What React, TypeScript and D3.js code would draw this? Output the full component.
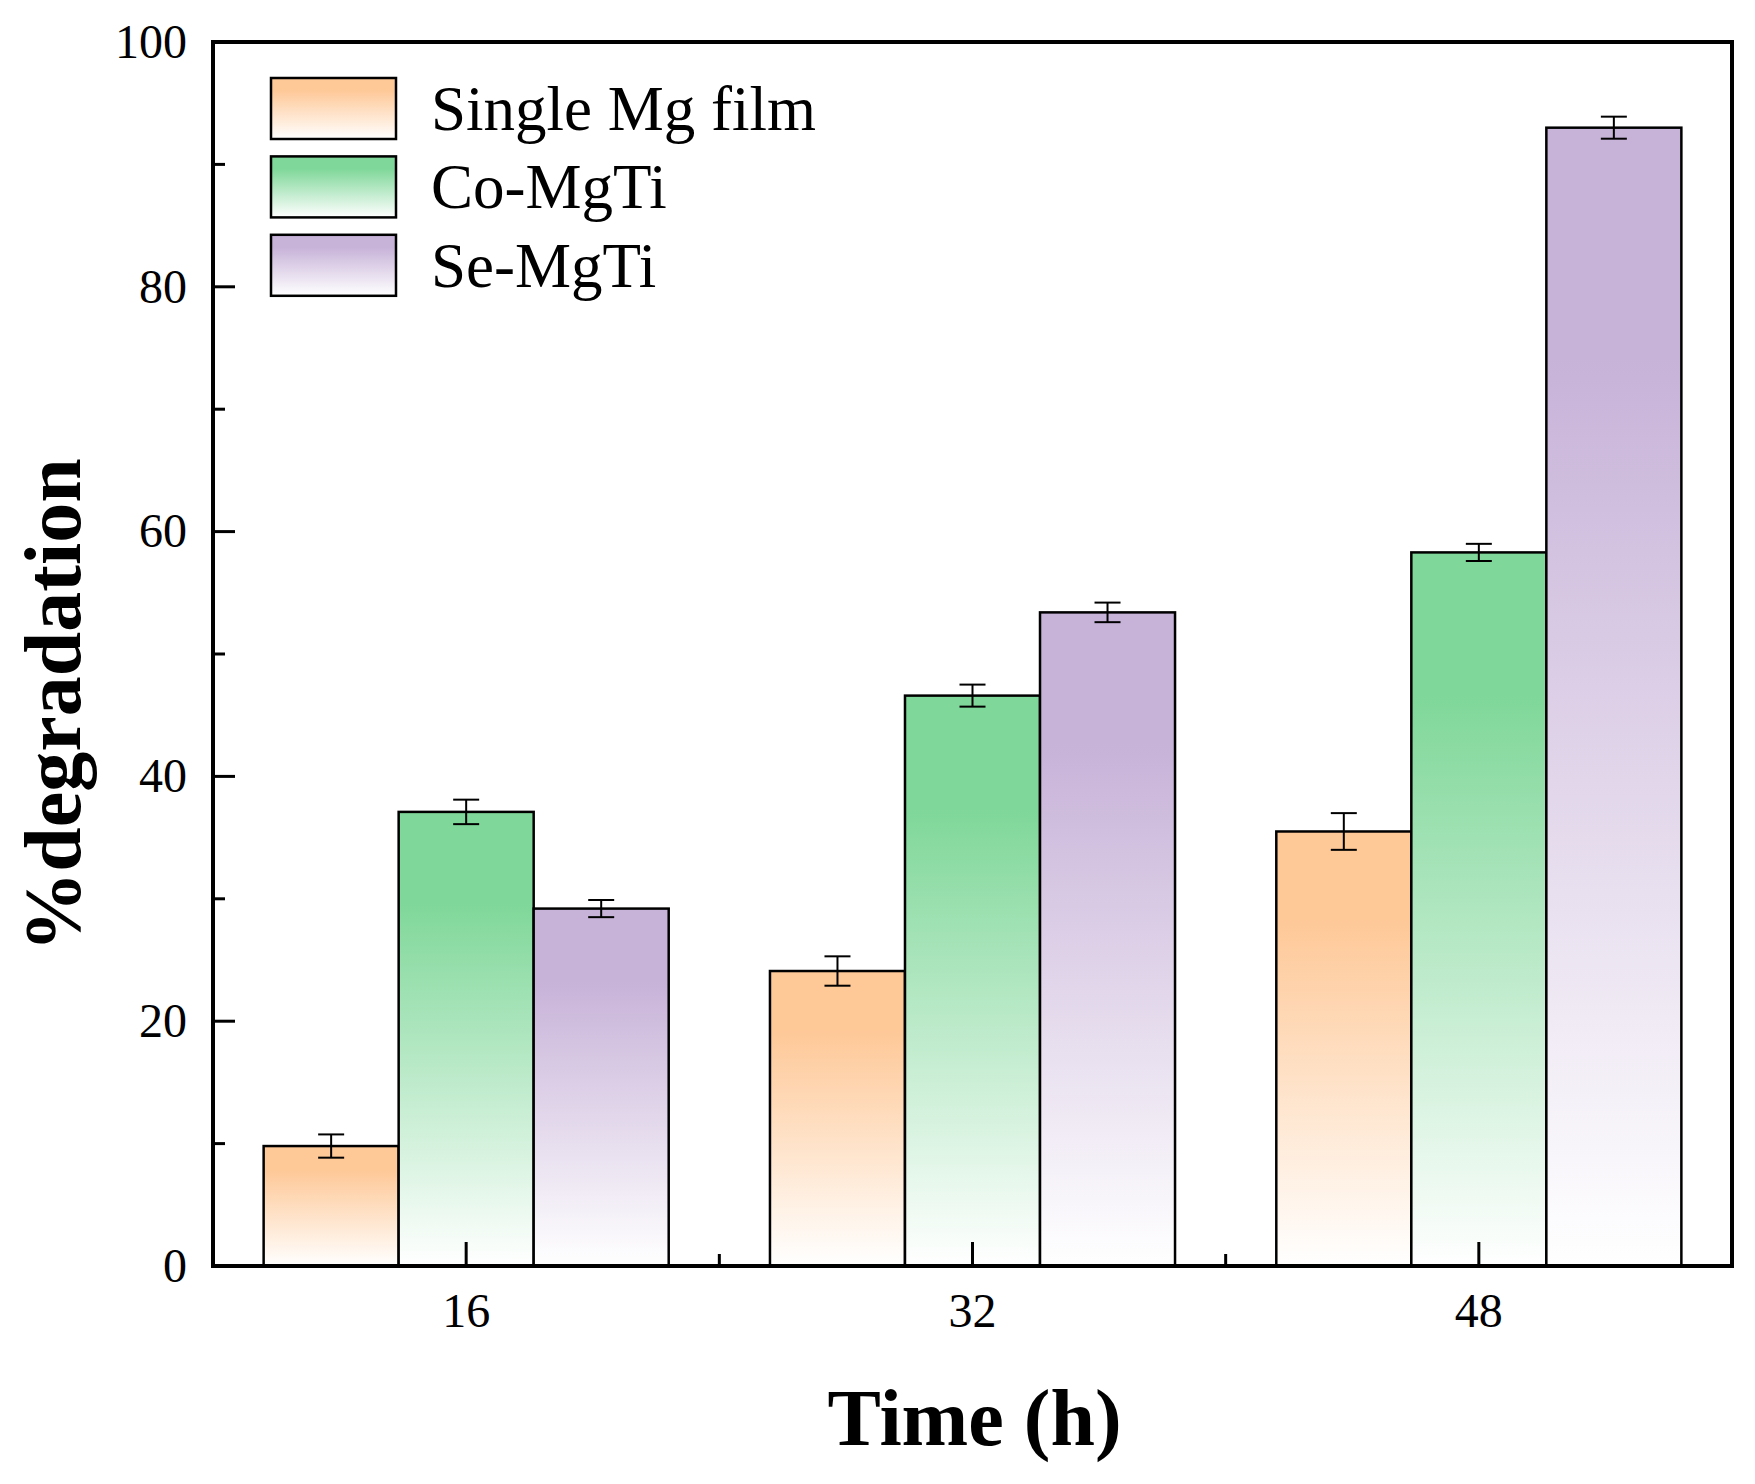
import React, { useRef, useEffect } from 'react';
import * as d3 from 'd3';

const times = [16, 32, 48];
const seriesNames = ['Single Mg film', 'Co-MgTi', 'Se-MgTi'];
const seriesColors = ['#FEC897', '#7FD799', '#C7B2D8'];

const singleMg = [9.8, 24.1, 35.5];
const singleMgErr = [0.95, 1.2, 1.5];
const coMgTi = [37.1, 46.6, 58.3];
const coMgTiErr = [1.0, 0.9, 0.7];
const seMgTi = [29.2, 53.4, 93.0];
const seMgTiErr = [0.7, 0.8, 0.9];

const yTicks = [0, 20, 40, 60, 80, 100];
const xTicks = [16, 32, 48];

const values = [singleMg, coMgTi, seMgTi];
const errors = [singleMgErr, coMgTiErr, seMgTiErr];

const App: React.FC = () => {
    const svgRef = useRef<SVGSVGElement | null>(null);

    useEffect(() => {
        const svg = d3.select(svgRef.current);
        svg.selectAll('*').remove();
        const width = 1755;
        const height = 1484;
        const margin = { top: 42, right: 23, bottom: 218, left: 213 };
        const font = '"Liberation Serif", "Times New Roman", serif';

        svg.attr('width', width).attr('height', height).style('background', '#fff');

        const x = d3.scaleLinear().domain([8, 56]).range([margin.left, width - margin.right]);
        const y = d3.scaleLinear().domain([0, 100]).range([height - margin.bottom, margin.top]);

        const barW = (16 * 0.8) / 3;

        // gradients
        const defs = svg.append('defs');
        seriesColors.forEach((c, i) => {
            const g = defs.append('linearGradient')
                .attr('id', `grad${i}`)
                .attr('x1', 0).attr('y1', 0).attr('x2', 0).attr('y2', 1);
            g.append('stop').attr('offset', '0').attr('stop-color', c);
            g.append('stop').attr('offset', '0.2').attr('stop-color', c);
            g.append('stop').attr('offset', '1').attr('stop-color', '#ffffff');
        });

        // bars
        values.forEach((vals, s) => {
            const grp = svg.append('g');
            grp.selectAll('rect')
                .data(times.map((t, i) => ({ t, v: vals[i], e: errors[s][i] })))
                .enter()
                .append('rect')
                .attr('x', d => x(d.t + (s - 1.5) * barW))
                .attr('y', d => y(d.v))
                .attr('width', x(barW) - x(0))
                .attr('height', d => y(0) - y(d.v))
                .attr('fill', `url(#grad${s})`)
                .attr('stroke', '#000')
                .attr('stroke-width', 2.5);
        });

        // error bars
        values.forEach((vals, s) => {
            const grp = svg.append('g').attr('stroke', '#000').attr('stroke-width', 2);
            times.forEach((t, i) => {
                const cx = x(t + (s - 1) * barW);
                const lo = y(vals[i] - errors[s][i]);
                const hi = y(vals[i] + errors[s][i]);
                grp.append('line').attr('x1', cx).attr('x2', cx).attr('y1', lo).attr('y2', hi);
                grp.append('line').attr('x1', cx - 13).attr('x2', cx + 13).attr('y1', lo).attr('y2', lo);
                grp.append('line').attr('x1', cx - 13).attr('x2', cx + 13).attr('y1', hi).attr('y2', hi);
            });
        });

        // ticks (inward)
        const tickG = svg.append('g').attr('stroke', '#000').attr('stroke-width', 3);
        d3.range(0, 101, 10).forEach(v => {
            const len = v % 20 === 0 ? 22 : 12;
            tickG.append('line')
                .attr('x1', margin.left).attr('x2', margin.left + len)
                .attr('y1', y(v)).attr('y2', y(v));
        });
        d3.range(8, 57, 8).forEach(v => {
            const len = xTicks.includes(v) ? 24 : 12;
            tickG.append('line')
                .attr('x1', x(v)).attr('x2', x(v))
                .attr('y1', y(0)).attr('y2', y(0) - len);
        });

        // frame
        svg.append('rect')
            .attr('x', margin.left)
            .attr('y', margin.top)
            .attr('width', width - margin.right - margin.left)
            .attr('height', height - margin.bottom - margin.top)
            .attr('fill', 'none')
            .attr('stroke', '#000')
            .attr('stroke-width', 4);

        // tick labels
        svg.append('g')
            .selectAll('text')
            .data(yTicks)
            .enter()
            .append('text')
            .attr('x', margin.left - 26)
            .attr('y', d => y(d))
            .attr('dy', '0.33em')
            .attr('text-anchor', 'end')
            .style('font-family', font)
            .style('font-size', '48px')
            .text(d => d);

        svg.append('g')
            .selectAll('text')
            .data(xTicks)
            .enter()
            .append('text')
            .attr('x', d => x(d))
            .attr('y', 1327)
            .attr('text-anchor', 'middle')
            .style('font-family', font)
            .style('font-size', '48px')
            .text(d => d);

        // axis titles
        svg.append('text')
            .attr('x', x(32) + 2)
            .attr('y', 1445)
            .attr('text-anchor', 'middle')
            .style('font-family', font)
            .style('font-size', '80px')
            .style('font-weight', 'bold')
            .text('Time (h)');

        svg.append('text')
            .attr('transform', 'translate(80,705) rotate(-90)')
            .attr('text-anchor', 'middle')
            .style('font-family', font)
            .style('font-size', '80px')
            .style('font-weight', 'bold')
            .text('%degradation');

        // legend
        const legend = svg.append('g').attr('transform', 'translate(271,78)');
        seriesNames.forEach((name, i) => {
            legend.append('rect')
                .attr('x', 0)
                .attr('y', i * 78.4)
                .attr('width', 125)
                .attr('height', 61)
                .attr('fill', `url(#grad${i})`)
                .attr('stroke', '#000')
                .attr('stroke-width', 2.5);
            legend.append('text')
                .attr('x', 160)
                .attr('y', i * 78.4 + 52)
                .style('font-family', font)
                .style('font-size', '63px')
                .text(name);
        });
    }, []);

    return <svg ref={svgRef} style={{ display: 'block', margin: '-8px' }}></svg>;
};

export default App;
